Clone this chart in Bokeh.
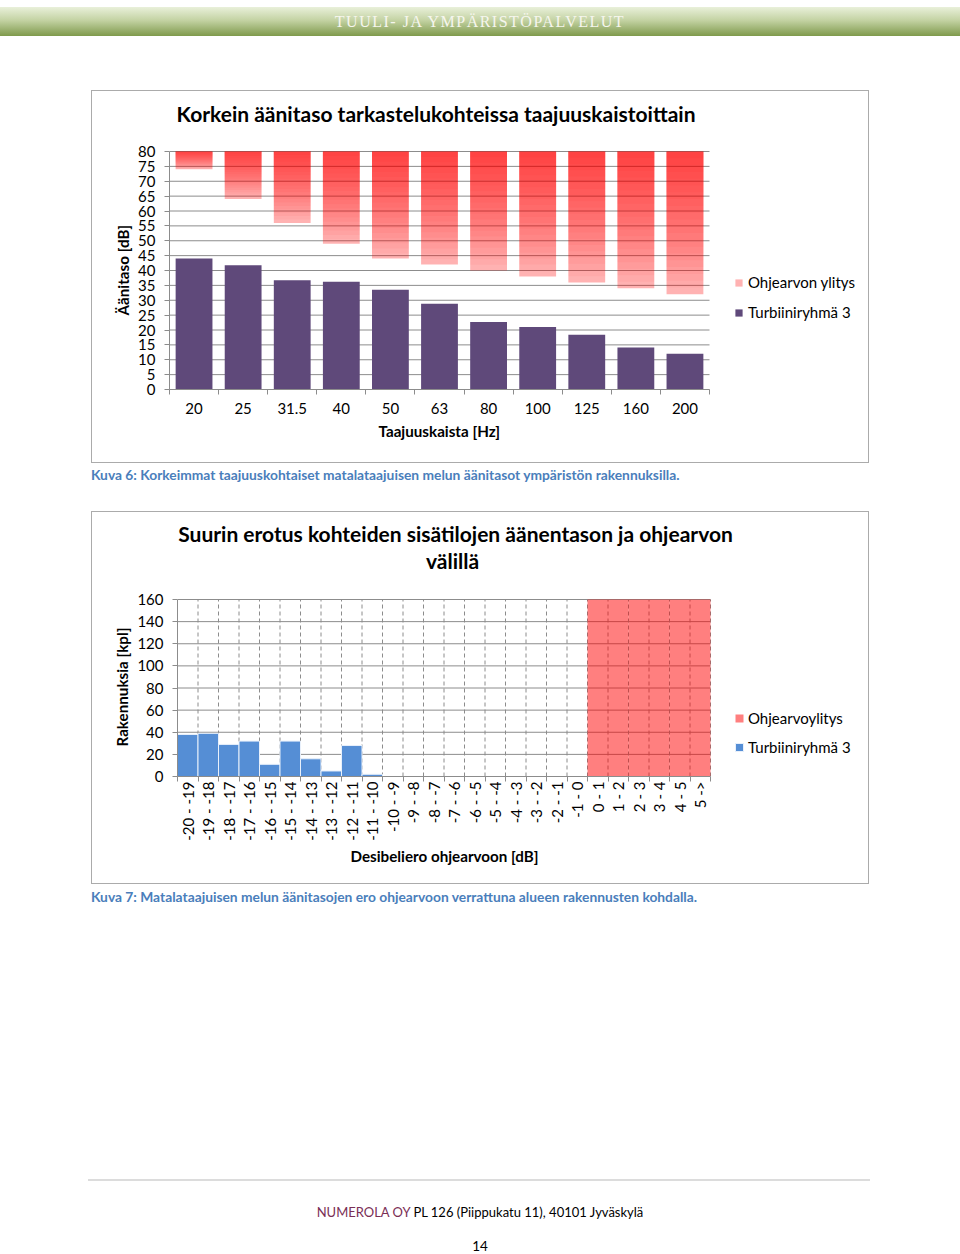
import math
from bokeh.plotting import figure
from bokeh.models import (ColumnDataSource, FixedTicker, Legend, LegendItem, Label, Title, Div, Range1d)
from bokeh.layouts import column, row
from bokeh.embed import file_html
from bokeh.resources import INLINE

FONT = "Lato"

# ---------------- Chart 1 data ----------------
freq_bands = ["20", "25", "31.5", "40", "50", "63", "80", "100", "125", "160", "200"]
turbine_group3_db = [44.0, 41.8, 36.7, 36.2, 33.5, 28.8, 22.7, 21.0, 18.4, 14.1, 12.0]
guideline_db = [74, 64, 56, 49, 44, 42, 40, 38, 36, 34, 32]
level_ticks = [0, 5, 10, 15, 20, 25, 30, 35, 40, 45, 50, 55, 60, 65, 70, 75, 80]

# ---------------- Chart 2 data ----------------
diff_bins = ["-20 - -19", "-19 - -18", "-18 - -17", "-17 - -16", "-16 - -15",
             "-15 - -14", "-14 - -13", "-13 - -12", "-12 - -11", "-11 - -10",
             "-10 - -9", "-9 - -8", "-8 - -7", "-7 - -6", "-6 - -5", "-5 - -4",
             "-4 - -3", "-3 - -2", "-2 - -1", "-1 - 0", "0 - 1", "1 - 2",
             "2 - 3", "3 - 4", "4 - 5", "5 ->"]
buildings_group3 = [38, 39, 29, 32, 11, 32, 16, 5, 28, 2,
                    0, 0, 0, 0, 0, 0, 0, 0, 0, 0,
                    0, 0, 0, 0, 0, 0]
guideline_exceed = [0, 0, 0, 0, 0, 0, 0, 0, 0, 0,
                    0, 0, 0, 0, 0, 0, 0, 0, 0, 0,
                    160, 160, 160, 160, 160, 160]
count_ticks = [0, 20, 40, 60, 80, 100, 120, 140, 160]

GRID = "#8c8c8c"
TXT = "15px"
LBL = "15.2px"
FIG_W, FIG_H = 778, 373


class Geo:
    """pixel geometry of one chart box: plot area inside the figure (figure-relative px)"""
    def __init__(self, left, bottom, width, height, ncat, ymax):
        self.left, self.bottom, self.width, self.height = left, bottom, width, height
        self.ncat, self.ymax = ncat, ymax
        self.x_end = ncat * (FIG_W - left) / width
        self.y_end = ymax * bottom / height

    def dx(self, px):  # figure-relative px -> data x
        return (px - self.left) * self.ncat / self.width

    def dy(self, py):  # figure-relative px (from top) -> data y
        return (self.bottom - py) * self.ymax / self.height


def make_fig(geo):
    p = figure(width=FIG_W, height=FIG_H, x_range=Range1d(0, geo.x_end),
               y_range=Range1d(0, geo.y_end), output_backend="svg", toolbar_location=None,
               min_border_left=geo.left, min_border_right=0, min_border_top=0,
               min_border_bottom=FIG_H - geo.bottom)
    p.outline_line_color = None
    p.styles = {"border": "1px solid #ababab"}
    p.xgrid.visible = False
    p.ygrid.visible = False
    for ax in (p.xaxis[0], p.yaxis[0]):
        ax.axis_line_color = GRID
        ax.major_tick_line_color = GRID
        ax.minor_tick_line_color = GRID
        ax.major_label_text_font = FONT
        ax.major_label_text_font_size = TXT
        ax.major_label_text_color = "black"
    p.xaxis.bounds = (0, geo.ncat)
    p.yaxis.bounds = (0, geo.ymax)
    p.xaxis.major_tick_line_color = None
    p.xaxis.major_tick_out = 0
    p.xaxis.major_tick_in = 0
    p.xaxis.minor_tick_out = 5
    p.xaxis.minor_tick_in = 0
    p.yaxis.minor_tick_line_color = None
    p.yaxis.major_tick_out = 5
    p.yaxis.major_tick_in = 0
    p.yaxis.major_label_standoff = 9
    return p


def axis_title(p, text, side, offset, standoff):
    """axis title placed along the data area: below -> offset from the frame's left edge,
    left -> offset upward from the frame's bottom edge"""
    p.add_layout(Title(text=text, align="left", offset=offset, standoff=standoff,
                       text_font=FONT, text_font_size=LBL, text_font_style="bold",
                       text_color="black"), side)


def title_label(p, geo, text, px, py, size):
    p.add_layout(Label(x=geo.dx(px), y=geo.dy(py), text=text, text_align="center",
                       text_baseline="middle", text_font=FONT, text_font_size=size,
                       text_font_style="bold", text_color="black"))


# ================= Chart 1 =================
n1 = len(freq_bands)
x1 = [i + 0.5 for i in range(n1)]
ymax1 = level_ticks[-1]
g1 = Geo(left=77, bottom=298, width=540, height=238, ncat=n1, ymax=ymax1)
p1 = make_fig(g1)

# horizontal gridlines at the tick values, behind the bars
p1.segment(x0=0, x1=n1, y0=level_ticks, y1=level_ticks, line_color=GRID, line_width=1,
           level="underlay")

# gradient of the exceedance bars built from nested translucent layers
N = 20
base_a, top_a = 0.30, 0.72
step_a = 1 - ((1 - top_a) / (1 - base_a)) ** (1.0 / N)
g = dict(x=[], bottom=[], top=[], alpha=[])
for xi, gl in zip(x1, guideline_db):
    for k in range(N + 1):
        g["x"].append(xi)
        g["bottom"].append(gl + (ymax1 - gl) * k / (N + 1))
        g["top"].append(ymax1)
        g["alpha"].append(base_a if k == 0 else step_a)
r_ex1 = p1.vbar(x="x", bottom="bottom", top="top", width=0.75, source=ColumnDataSource(g),
                fill_color="#ff0000", fill_alpha="alpha", line_color=None)
r_tb1 = p1.vbar(x=x1, top=turbine_group3_db, width=0.75, fill_color="#5f497a", line_color=None)

p1.xaxis.ticker = FixedTicker(ticks=x1, minor_ticks=list(range(n1 + 1)))
p1.xaxis.major_label_overrides = {xi: lab for xi, lab in zip(x1, freq_bands)}
p1.xaxis.major_label_standoff = 8
p1.yaxis.ticker = FixedTicker(ticks=level_ticks)

axis_title(p1, "Taajuuskaista [Hz]", "below", 209, 6)
axis_title(p1, "Äänitaso [dB]", "left", 74, 8)

title_label(p1, g1, "Korkein äänitaso tarkastelukohteissa taajuuskaistoittain", 343.5, 22, "21px")

leg1 = Legend(items=[LegendItem(label="Ohjearvon ylitys", renderers=[r_ex1], index=0),
                     LegendItem(label="Turbiiniryhmä 3", renderers=[r_tb1])],
              location=(565, 68), orientation="vertical",
              label_text_font=FONT, label_text_font_size=TXT, label_text_color="black",
              glyph_width=9, glyph_height=9, label_height=17, spacing=12,
              label_standoff=5, padding=0, margin=0,
              border_line_color=None, background_fill_alpha=0)
p1.add_layout(leg1, "center")

# ================= Chart 2 =================
n2 = len(diff_bins)
x2 = [i + 0.5 for i in range(n2)]
g2 = Geo(left=85, bottom=264, width=533, height=177, ncat=n2, ymax=count_ticks[-1])
p2 = make_fig(g2)

bounds2 = list(range(1, n2 + 1))
p2.segment(x0=0, x1=n2, y0=count_ticks, y1=count_ticks, line_color=GRID, line_width=1,
           level="underlay")
p2.segment(x0=bounds2, x1=bounds2, y0=0, y1=count_ticks[-1], line_color=GRID, line_width=1,
           line_dash="4 3", level="underlay")

r_ex2 = p2.vbar(x=x2, top=guideline_exceed, width=1.0, fill_color="#ff0000", fill_alpha=0.5,
                line_color=None)
r_tb2 = p2.vbar(x=x2, top=buildings_group3, width=1.0, fill_color="#558ed5",
                line_color="#e8f0fb", line_width=1)

p2.xaxis.ticker = FixedTicker(ticks=x2, minor_ticks=list(range(n2 + 1)))
p2.xaxis.major_label_overrides = {xi: lab for xi, lab in zip(x2, diff_bins)}
p2.xaxis.major_label_orientation = math.pi / 2
p2.xaxis.major_label_standoff = 0
p2.yaxis.ticker = FixedTicker(ticks=count_ticks)

axis_title(p2, "Desibeliero ohjearvoon [dB]", "below", 173, 3)
axis_title(p2, "Rakennuksia [kpl]", "left", 30, 8)

title_label(p2, g2, "Suurin erotus kohteiden sisätilojen äänentason ja ohjearvon", 363, 21, "21px")
title_label(p2, g2, "välillä", 360, 48, "21px")

leg2 = Legend(items=[LegendItem(label="Ohjearvoylitys", renderers=[r_ex2]),
                     LegendItem(label="Turbiiniryhmä 3", renderers=[r_tb2])],
              location=(557, 20), orientation="vertical",
              label_text_font=FONT, label_text_font_size=TXT, label_text_color="black",
              glyph_width=10, glyph_height=10, label_height=17, spacing=11,
              label_standoff=4, padding=0, margin=0,
              border_line_color=None, background_fill_alpha=0)
p2.add_layout(leg2, "center")

# ================= Page decorations =================
banner = Div(text=("<div style=\"width:960px;height:29px;line-height:29px;text-align:center;"
                   "background:linear-gradient(#e9f0da,#c4d3a4 45%,#7f9a4c);"
                   "color:#f6f6ee;font-family:'Liberation Serif';font-size:16px;letter-spacing:1.5px;\">"
                   "TUULI- JA YMPÄRISTÖPALVELUT</div>"),
             width=960, height=29, margin=(7, 0, 0, 0))

CAP = ("<div style=\"font-family:Lato;font-weight:bold;font-size:13.8px;color:#4a7ebb;"
       "white-space:nowrap;line-height:18px;\">{}</div>")
cap1 = Div(text=CAP.format("Kuva 6: Korkeimmat taajuuskohtaiset matalataajuisen melun äänitasot ympäristön rakennuksilla."),
           width=800, height=18, margin=(3, 0, 0, 91))
cap2 = Div(text=CAP.format("Kuva 7: Matalataajuisen melun äänitasojen ero ohjearvoon verrattuna alueen rakennusten kohdalla."),
           width=800, height=18, margin=(4, 0, 0, 91))

hline = Div(text="<div style=\"width:782px;height:2px;background:#dcdcdc;\"></div>",
            width=782, height=2, margin=(263, 0, 0, 88))
footer = Div(text=("<div style=\"width:960px;text-align:center;font-family:Lato;font-size:13px;"
                   "line-height:18px;color:#000;\"><span style=\"color:#7a2e55;\">NUMEROLA OY</span>"
                   " PL 126 (Piippukatu 11), 40101 Jyväskylä</div>"),
             width=960, height=18, margin=(32, 0, 0, 0))
pagenum = Div(text=("<div style=\"width:960px;text-align:center;font-family:Lato;font-size:13.5px;"
                    "line-height:16px;color:#000;\">14</div>"),
              width=960, height=16, margin=(17, 0, 0, 0))

w1 = row(p1, margin=(54, 0, 0, 91))
w2 = row(p2, margin=(27, 0, 0, 91))

page = column(banner, w1, cap1, w2, cap2, hline, footer, pagenum, spacing=0)

open("out.html", "w").write(file_html(page, INLINE))
